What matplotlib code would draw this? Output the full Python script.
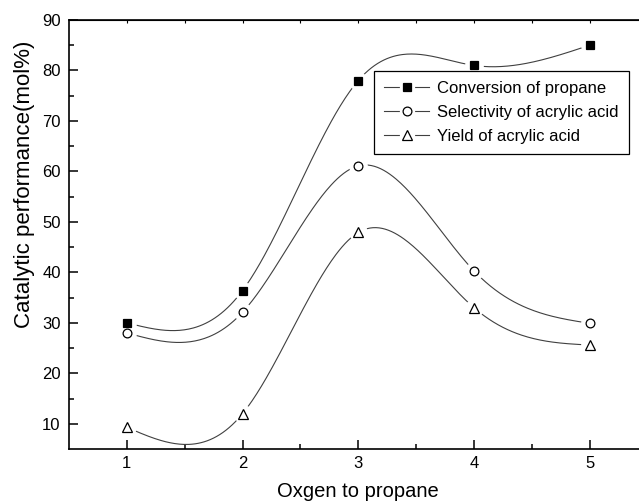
import numpy as np
import matplotlib
matplotlib.use("Agg")
import matplotlib.pyplot as plt
from matplotlib.lines import Line2D
from matplotlib.legend_handler import HandlerTuple

plt.rcParams['font.family'] = ['Liberation Sans', 'DejaVu Sans']

# data
ratio = [1, 2, 3, 4, 5]
conversion = [30.0, 36.4, 78.0, 81.0, 85.0]
selectivity = [28.0, 32.1, 61.1, 40.3, 29.9]
yield_aa = [9.3, 12.0, 47.9, 33.0, 25.6]
labels = ["Conversion of propane", "Selectivity of acrylic acid", "Yield of acrylic acid"]


def natural_spline(x, y, n=300):
    # natural cubic spline through the points (like Origin's spline connect)
    x = np.asarray(x, float)
    y = np.asarray(y, float)
    k = len(x)
    h = np.diff(x)
    A = np.zeros((k, k))
    b = np.zeros(k)
    A[0, 0] = A[-1, -1] = 1
    for i in range(1, k - 1):
        A[i, i - 1] = h[i - 1]
        A[i, i] = 2 * (h[i - 1] + h[i])
        A[i, i + 1] = h[i]
        b[i] = 6 * ((y[i + 1] - y[i]) / h[i] - (y[i] - y[i - 1]) / h[i - 1])
    M = np.linalg.solve(A, b)
    xs = np.linspace(x[0], x[-1], n)
    idx = np.clip(np.searchsorted(x, xs) - 1, 0, k - 2)
    x0, x1 = x[idx], x[idx + 1]
    hh = x1 - x0
    t0, t1 = x1 - xs, xs - x0
    ys = (M[idx] * t0**3 + M[idx + 1] * t1**3) / (6 * hh) \
        + (y[idx] / hh - M[idx] * hh / 6) * t0 \
        + (y[idx + 1] / hh - M[idx + 1] * hh / 6) * t1
    return xs, ys


fig = plt.figure(figsize=(6.39, 5.04), dpi=100)
ax = fig.add_axes([69 / 639, 55 / 504, 578.5 / 639, 429 / 504])

line_col = '#404040'
styles = [
    dict(marker='s', ms=5.8, mfc='black', mec='black'),
    dict(marker='o', ms=6.3, mfc='white', mec='black'),
    dict(marker='^', ms=6.8, mfc='white', mec='black'),
]
series = [conversion, selectivity, yield_aa]

# curves first, then white halos to make the gaps, then the markers
for vals in series:
    xs, ys = natural_spline(ratio, vals)
    ax.plot(xs, ys, color=line_col, lw=0.8, zorder=2)
for vals in series:
    ax.plot(ratio, vals, ls='none', marker='o', ms=12.5, mfc='white', mec='white', zorder=3)
for vals, st in zip(series, styles):
    ax.plot(ratio, vals, ls='none', mew=0.9, zorder=4, **st)

ax.set_xlim(0.5, 5.5)
ax.set_ylim(5, 90)
ax.set_xticks(ratio)
ax.set_xticks(np.arange(1.5, 5.0, 1.0), minor=True)
ax.set_yticks(np.arange(10, 91, 10))
ax.set_yticks(np.arange(15, 90, 10), minor=True)

ax.spines['right'].set_visible(False)
for s in ['left', 'bottom', 'top']:
    ax.spines[s].set_linewidth(1.2)
ax.tick_params(which='both', direction='in', width=1.1, labelsize=12)
ax.tick_params(which='major', length=6.5)
ax.tick_params(which='minor', length=3.5)
ax.tick_params(axis='y', pad=6)
ax.tick_params(axis='x', pad=5)

top = ax.secondary_xaxis('top')
top.set_xticks(np.arange(1.0, 5.01, 0.5))
top.tick_params(direction='in', length=2.5, width=0.8, labeltop=False)

ax.set_xlabel("Oxgen to propane", fontsize=14.5, labelpad=8)
ax.set_ylabel("Catalytic performance(mol%)", fontsize=16)
ax.yaxis.set_label_coords(-0.059, 0.618)

handles = []
for st in styles:
    ln = Line2D([], [], color=line_col, lw=0.8)
    halo = Line2D([], [], ls='none', marker='o', ms=10, mfc='white', mec='white')
    mk = Line2D([], [], ls='none', mew=0.9, **st)
    handles.append((ln, halo, mk))

leg = ax.legend(handles, labels, handler_map={tuple: HandlerTuple(ndivide=1)},
                loc='upper left', bbox_to_anchor=(374 / 639, 1 - 70.7 / 504),
                bbox_transform=fig.transFigure, borderaxespad=0, fontsize=12,
                handlelength=2.7, handletextpad=0.5, labelspacing=0.55,
                borderpad=0.6, numpoints=1, fancybox=False, framealpha=1)
leg.get_frame().set_edgecolor('black')
leg.get_frame().set_linewidth(0.9)

fig.savefig("out.png", dpi=100)
